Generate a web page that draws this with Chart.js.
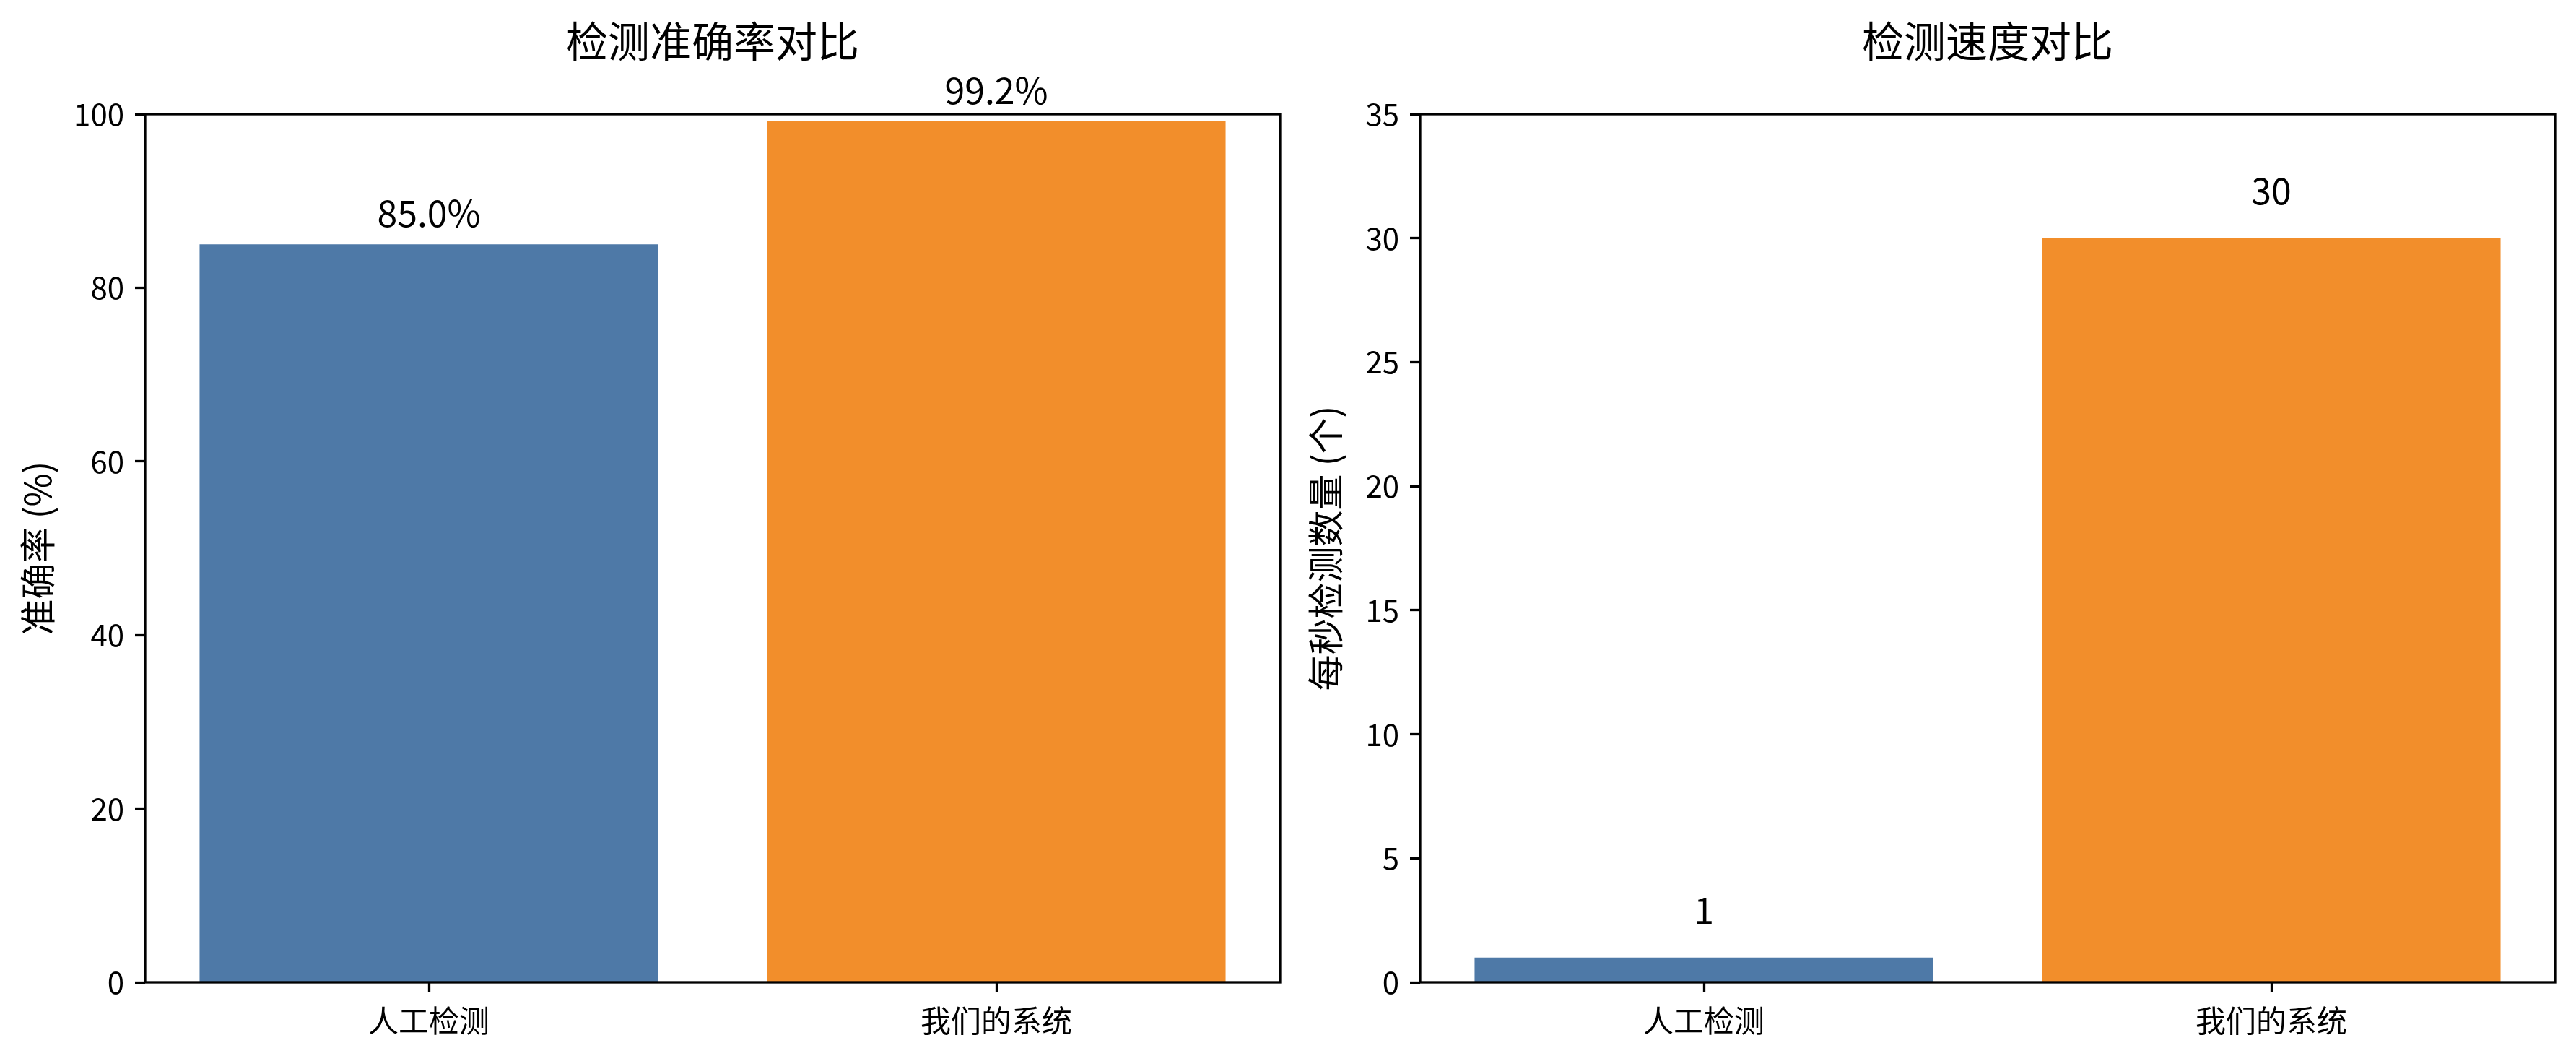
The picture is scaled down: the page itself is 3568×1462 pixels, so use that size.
<!DOCTYPE html>
<html>
<head>
<meta charset="utf-8">
<script src="https://cdn.jsdelivr.net/npm/chart.js@4.4.1/dist/chart.umd.min.js"></script>
<style>
  html, body { margin: 0; padding: 0; background: #ffffff; }
  body { width: 3568px; height: 1462px; position: relative; overflow: hidden; }
  .panel { position: absolute; top: 0; width: 1784px; height: 1462px; }
  #p1 { left: 0; }
  #p2 { left: 1784px; }
</style>
</head>
<body>
<div class="panel" id="p1"><canvas id="c1" width="1784" height="1462"></canvas></div>
<div class="panel" id="p2"><canvas id="c2" width="1784" height="1462"></canvas></div>
<script>
// ---- data ----
const categories = ['人工检测', '我们的系统'];
const accuracyValues = [85.0, 99.2];
const speedValues = [1, 30];
const barColors = ['#4e79a7', '#f28e2b'];
const accuracyTitle = '检测准确率对比';
const speedTitle = '检测速度对比';
const accuracyAxisTitle = '准确率 (%)';
const speedAxisTitle = '每秒检测数量 (个)';
const accuracyRange = [0, 100, 20];
const speedRange = [0, 35, 5];

const FONT = "'Noto Sans CJK SC', 'Noto Sans', sans-serif";

const framePlugin = {
  id: 'frame',
  afterDatasetsDraw(chart) {
    const a = chart.chartArea, ctx = chart.ctx;
    ctx.save();
    ctx.strokeStyle = '#000';
    ctx.lineWidth = 3.3;
    ctx.strokeRect(a.left, a.top, a.right - a.left, a.bottom - a.top);
    ctx.restore();
  }
};

function valueLabelPlugin(fmt) {
  return {
    id: 'valueLabels',
    afterDatasetsDraw(chart) {
      const ctx = chart.ctx;
      const ys = chart.scales.y;
      const meta = chart.getDatasetMeta(0);
      const data = chart.data.datasets[0].data;
      ctx.save();
      ctx.fillStyle = '#000';
      ctx.font = '50px ' + FONT;
      ctx.textAlign = 'center';
      ctx.textBaseline = 'alphabetic';
      meta.data.forEach((bar, i) => {
        const v = data[i];
        const y = ys.getPixelForValue(v + 1) - 12;
        ctx.fillText(fmt(v), bar.x, y);
      });
      ctx.restore();
    }
  };
}

function makeChart(id, values, title, axisTitle, range, fmt, yWidth, padRight) {
  return new Chart(document.getElementById(id), {
    type: 'bar',
    data: {
      labels: categories,
      datasets: [{
        data: values,
        backgroundColor: barColors,
        borderWidth: 0,
        barPercentage: 0.808,
        categoryPercentage: 1.0
      }]
    },
    options: {
      responsive: false,
      animation: false,
      layout: { padding: { left: 0, right: padRight, top: 0, bottom: 0 } },
      plugins: {
        legend: { display: false },
        tooltip: { enabled: false },
        title: {
          display: true,
          fullSize: false,
          text: title,
          color: '#000',
          font: { family: FONT, size: 58, weight: 'normal', lineHeight: 1 },
          padding: { top: 28, bottom: 72 }
        }
      },
      scales: {
        x: {
          offset: true,
          border: { display: false },
          grid: { display: true, drawOnChartArea: false, drawTicks: true, tickLength: 14, tickWidth: 3.3, tickColor: '#000', offset: false },
          ticks: { color: '#000', font: { family: FONT, size: 42 }, padding: 14, maxRotation: 0 },
          afterFit(scale) { scale.height = 102; }
        },
        y: {
          min: range[0], max: range[1],
          border: { display: false },
          grid: { display: true, drawOnChartArea: false, drawTicks: true, tickLength: 14, tickWidth: 3.3, tickColor: '#000' },
          ticks: { stepSize: range[2], color: '#000', font: { family: FONT, size: 42 }, padding: 15 },
          title: {
            display: true,
            text: axisTitle,
            color: '#000',
            font: { family: FONT, size: 50, lineHeight: 1.2 },
            padding: { top: 22, bottom: 0 }
          },
          afterFit(scale) { scale.width = yWidth; }
        }
      }
    },
    plugins: [framePlugin, valueLabelPlugin(fmt)]
  });
}

makeChart('c1', accuracyValues, accuracyTitle, accuracyAxisTitle, accuracyRange, v => v.toFixed(1) + '%', 201, 11);
makeChart('c2', speedValues, speedTitle, speedAxisTitle, speedRange, v => String(v), 183, 29);
</script>
</body>
</html>
